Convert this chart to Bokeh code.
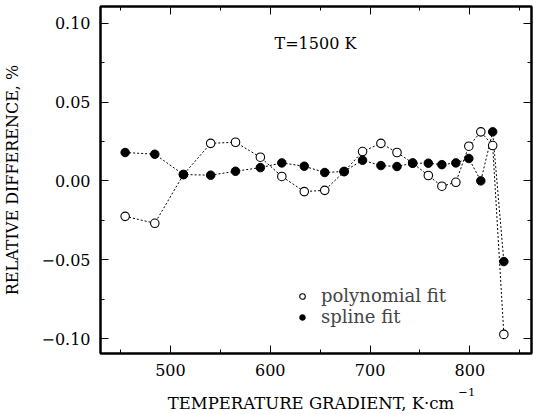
from bokeh.plotting import figure
from bokeh.layouts import column
from bokeh.models import Range1d, LinearAxis, FixedTicker, Label, Legend, LegendItem
from bokeh.embed import file_html
from bokeh.resources import INLINE

# ---- data ----
gradient = [454.6, 484.3, 513.0, 540.3, 565.2, 590.1, 611.6, 634.1, 654.6, 674.0,
            692.5, 710.9, 727.0, 742.7, 758.4, 772.0, 786.0, 799.0, 811.0, 822.9, 834.1]
polynomial_fit = [-0.0225, -0.0269, 0.0040, 0.0238, 0.0245, 0.0150, 0.0028, -0.0068,
                  -0.0060, 0.0058, 0.0186, 0.0238, 0.0180, 0.0113, 0.0034, -0.0034,
                  -0.0009, 0.0220, 0.0311, 0.0224, -0.0974]
spline_fit = [0.0180, 0.0169, 0.0040, 0.0036, 0.0061, 0.0084, 0.0114, 0.0093, 0.0053,
              0.0060, 0.0131, 0.0097, 0.0091, 0.0112, 0.0112, 0.0103, 0.0114, 0.0142,
              0.0000, 0.0311, -0.0512]

x_major = [500, 600, 700, 800]
x_minor = [450, 550, 650, 750, 850]
y_major = [-0.10, -0.05, 0.0, 0.05, 0.10]
y_minor = [-0.075, -0.025, 0.025, 0.075]
y_labels = ["\u22120.10", "\u22120.05", "0.00", "0.05", "0.10"]

title_text = "T=1500 K"
x_title = "TEMPERATURE GRADIENT, K\u00b7cm"
x_title_sup = "\u22121"
y_title = "RELATIVE DIFFERENCE, %"
series_names = ["polynomial fit", "spline fit"]

FONT = "DejaVu Serif"
W = 533
H_MAIN = 384
H_TITLE = 30
X0, X1 = 429.9, 861.8

p = figure(width=W, height=H_MAIN, output_backend="svg", toolbar_location=None,
           x_range=Range1d(X0, X1), y_range=Range1d(-0.1095, 0.1106),
           min_border_left=100, min_border_right=2, min_border_top=6,
           min_border_bottom=H_MAIN - 353,
           background_fill_color="white", border_fill_color="white")
p.grid.visible = False
p.outline_line_color = "black"
p.outline_line_width = 2

p.line(gradient, polynomial_fit, line_color="black", line_width=1, line_dash="2 2")
p.line(gradient, spline_fit, line_color="black", line_width=1, line_dash="2 2")
r_poly = p.scatter(gradient, polynomial_fit, marker="circle", size=8.5,
                   fill_color="white", line_color="black", line_width=1.1)
r_spl = p.scatter(gradient, spline_fit, marker="circle", size=8.5,
                  fill_color="black", line_color="black", line_width=1)


def style_axis(ax, labels=True):
    ax.axis_line_width = 2
    ax.axis_line_color = "black"
    ax.major_tick_in = 8
    ax.major_tick_out = 0
    ax.minor_tick_in = 4
    ax.minor_tick_out = 0
    ax.major_tick_line_color = "black"
    ax.minor_tick_line_color = "black"
    ax.major_label_text_font = FONT
    ax.major_label_text_font_size = "16px"
    ax.major_label_text_color = "black"
    ax.axis_label_text_font = FONT
    ax.axis_label_text_font_size = "16px"
    ax.axis_label_text_font_style = "normal"
    ax.axis_label_text_color = "black"
    if not labels:
        ax.major_label_text_color = None
        ax.major_label_text_font_size = "1px"
        ax.major_label_standoff = 0
        ax.axis_label_standoff = 0


xa = p.xaxis[0]
xa.ticker = FixedTicker(ticks=x_major, minor_ticks=x_minor)
style_axis(xa)
xa.major_label_standoff = 10

ya = p.yaxis[0]
ya.ticker = FixedTicker(ticks=y_major, minor_ticks=y_minor)
style_axis(ya)
ya.major_label_standoff = 10
ya.major_label_overrides = {v: s for v, s in zip(y_major, y_labels)}
ya.axis_label = y_title
ya.axis_label_standoff = 16

top = LinearAxis(ticker=FixedTicker(ticks=x_major, minor_ticks=x_minor))
style_axis(top, labels=False)
p.add_layout(top, "above")
right = LinearAxis(ticker=FixedTicker(ticks=y_major, minor_ticks=y_minor))
style_axis(right, labels=False)
p.add_layout(right, "right")

p.add_layout(Label(x=645.3, y=0.0871, text=title_text, text_font=FONT,
                   text_font_size="16px", text_align="center", text_baseline="middle",
                   text_color="black"))

legend = Legend(items=[LegendItem(label=series_names[0], renderers=[r_poly]),
                       LegendItem(label=series_names[1], renderers=[r_spl])],
                location=(195, 26), padding=0, margin=0, spacing=0,
                glyph_width=14, glyph_height=20, label_height=20, label_standoff=12,
                label_text_font=FONT, label_text_font_size="18px",
                border_line_alpha=0, background_fill_alpha=0)
p.add_layout(legend, "center")

# strip under the plot holding the x-axis title (its frame is aligned with the plot's)
t = figure(width=W, height=H_TITLE, output_backend="svg", toolbar_location=None,
           x_range=Range1d(X0, X1), y_range=Range1d(0, H_TITLE),
           x_axis_type=None, y_axis_type=None,
           min_border_left=0, min_border_right=0, min_border_top=0, min_border_bottom=0,
           background_fill_color="white", border_fill_color="white")
t.grid.visible = False
t.outline_line_color = None
t.add_layout(Label(x=640.8, y=11.5, text=x_title, text_font=FONT,
                   text_font_size="16.5px", text_align="center",
                   text_baseline="middle", text_color="black"))
t.add_layout(Label(x=788.5, y=22.3, text=x_title_sup, text_font=FONT,
                   text_font_size="11.5px", text_align="left",
                   text_baseline="middle", text_color="black"))

layout = column(p, t, spacing=0)
open("out.html", "w").write(file_html(layout, INLINE))
